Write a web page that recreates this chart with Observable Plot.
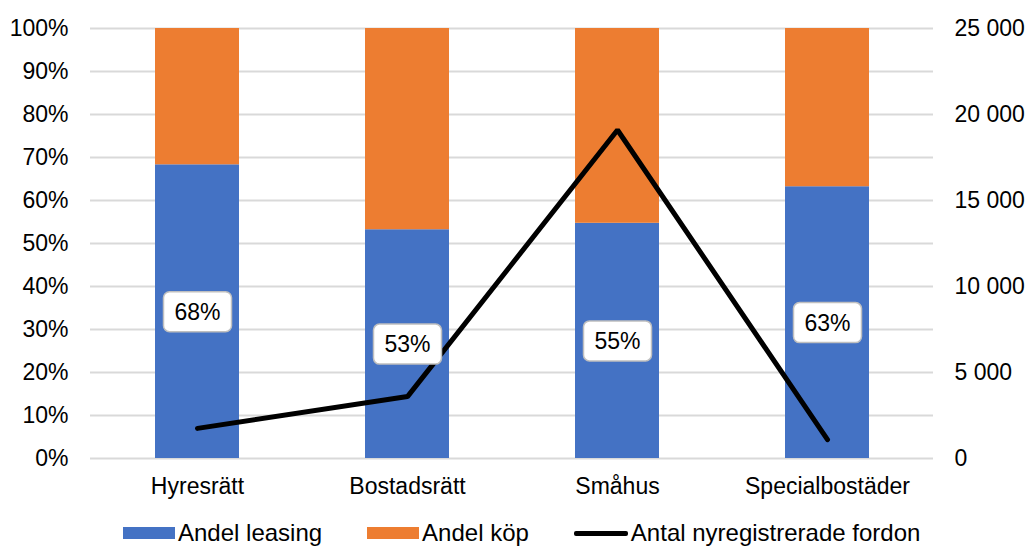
<!DOCTYPE html>
<html>
<head>
<meta charset="utf-8">
<script src="https://cdn.jsdelivr.net/npm/d3@7"></script>
<script src="https://cdn.jsdelivr.net/npm/@observablehq/plot@0.6"></script>
<style>
  html, body { margin: 0; padding: 0; background: #fff; }
  #chart { width: 1028px; font-family: "Liberation Sans", Arial, sans-serif; }
  #legend {
    display: flex; align-items: center; gap: 45px;
    padding-left: 123px; padding-top: 3px; height: 30px; line-height: 30px;
    font: 24px "Liberation Sans", Arial, sans-serif; color: #000;
  }
  #legend .item { display: flex; align-items: center; gap: 3px; }
  #legend .sw { width: 52px; height: 12px; }
  #legend .ln { width: 54px; height: 5px; background: #000; border-radius: 2px; }
</style>
</head>
<body>
<div id="chart"></div>
<script>
// Boendeform, andel leasing/köp och antal nyregistrerade fordon
const categories = ["Hyresrätt", "Bostadsrätt", "Småhus", "Specialbostäder"];
const leasing = [0.683, 0.532, 0.547, 0.632];
const kop = [0.317, 0.468, 0.453, 0.368];
const fordon = [1750, 3600, 19100, 1100];
const seriesNames = ["Andel leasing", "Andel köp", "Antal nyregistrerade fordon"];
const seriesColors = ["#4472c4", "#ed7d31", "#000000"];
const leftTicks = [0, 0.1, 0.2, 0.3, 0.4, 0.5, 0.6, 0.7, 0.8, 0.9, 1];
const rightTicks = [0, 5000, 10000, 15000, 20000, 25000];
const rightMax = 25000;

const sv = d3.formatLocale({decimal: ",", thousands: "\u00a0", grouping: [3], currency: ["", " kr"]});
const fmtCount = sv.format(",");
const fmtPct = d3.format(".0%");

const barRows = [];
categories.forEach((c, i) => {
  barRows.push({kategori: c, serie: seriesNames[0], andel: leasing[i]});
  barRows.push({kategori: c, serie: seriesNames[1], andel: kop[i]});
});
const leasingRows = barRows.filter(d => d.serie === seriesNames[0]);
const lineRows = categories.map((c, i) => ({kategori: c, fordon: fordon[i]}));

// rounded label box drawn as a dot symbol
const labelBox = {
  draw(ctx) {
    const w = 34, h = 20, r = 6;
    ctx.moveTo(-w + r, -h);
    ctx.lineTo(w - r, -h);
    ctx.arcTo(w, -h, w, -h + r, r);
    ctx.lineTo(w, h - r);
    ctx.arcTo(w, h, w - r, h, r);
    ctx.lineTo(-w + r, h);
    ctx.arcTo(-w, h, -w, h - r, r);
    ctx.lineTo(-w, -h + r);
    ctx.arcTo(-w, -h, -w + r, -h, r);
    ctx.closePath();
  }
};

const chart = Plot.plot({
  width: 1028,
  height: 515,
  marginTop: 28,
  marginBottom: 57,
  marginLeft: 90,
  marginRight: 95,
  style: {fontFamily: "Liberation Sans, Arial, sans-serif", fontSize: "23px", color: "#000", background: "#fff"},
  x: {domain: categories, paddingInner: 0.6, paddingOuter: 0.3, label: null},
  y: {domain: [0, 1], label: null},
  color: {domain: seriesNames.slice(0, 2), range: seriesColors.slice(0, 2)},
  marks: [
    Plot.gridY(leftTicks, {stroke: "#d9d9d9", strokeOpacity: 1, strokeWidth: 2}),
    Plot.barY(barRows, {x: "kategori", y: "andel", fill: "serie", inset: 0}),
    Plot.line(lineRows, {x: "kategori", y: d => d.fordon / rightMax, stroke: seriesColors[2], strokeWidth: 5, strokeLinejoin: "miter", strokeLinecap: "round"}),
    Plot.dot(leasingRows, Plot.stackY({x: "kategori", y: "andel", symbol: labelBox, r: 10, fill: "#fff", stroke: "#bfbfbf", strokeWidth: 1.5})),
    Plot.text(leasingRows, Plot.stackY({x: "kategori", y: "andel", text: d => fmtPct(d.andel), fill: "#000", fontSize: 23, dy: 1})),
    Plot.axisX({tickSize: 0, tickPadding: 19, label: null, fontSize: 23}),
    Plot.axisY(leftTicks, {anchor: "left", tickSize: 0, tickPadding: 22, tickFormat: fmtPct, label: null, fontSize: 23}),
    Plot.axisY(rightTicks.map(v => v / rightMax), {anchor: "right", tickSize: 0, tickPadding: 21, tickFormat: d => fmtCount(Math.round(d * rightMax)), label: null, fontSize: 23})
  ]
});
document.getElementById("chart").append(chart);

// legend below the chart
const legend = document.createElement("div");
legend.id = "legend";
seriesNames.forEach((name, i) => {
  const item = document.createElement("div");
  item.className = "item";
  const mark = document.createElement("span");
  if (i < 2) { mark.className = "sw"; mark.style.background = seriesColors[i]; }
  else { mark.className = "ln"; }
  const label = document.createElement("span");
  label.textContent = name;
  item.append(mark, label);
  legend.append(item);
});
document.getElementById("chart").append(legend);
</script>
</body>
</html>
